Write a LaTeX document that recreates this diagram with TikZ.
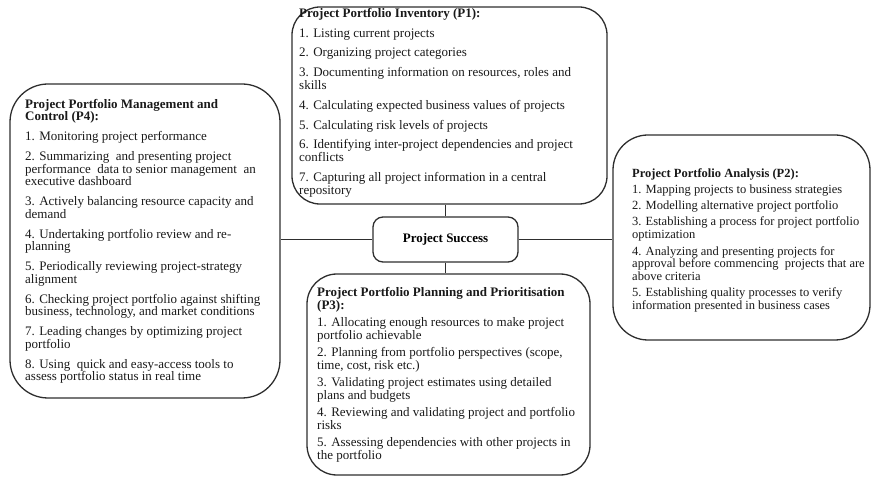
\documentclass[tikz,border=0pt]{standalone}
\usepackage{fontspec}
\setmainfont{Liberation Serif}
\usetikzlibrary{calc}

\tikzset{
  panel/.style={draw=black!82, line width=1.3pt, rounded corners=#1, inner sep=0pt},
  body/.style={anchor=north west, align=left, inner sep=0pt, text=black!90,
               font=\fontsize{13}{12.8}\selectfont},
  link/.style={draw=black!82, line width=1.1pt},
}

\begin{document}
\begin{tikzpicture}[x=1pt, y=-1pt]
  \useasboundingbox (0,0) rectangle (873,478);

  % outer panels
  \node[panel=28pt, minimum width=315pt, minimum height=197pt] (p1) at (449.5,105.5) {};
  \node[panel=38pt, minimum width=270pt, minimum height=314pt] (p4) at (145,241) {};
  \node[panel=35pt, minimum width=257pt, minimum height=205pt] (p2) at (741.5,237.5) {};
  \node[panel=30pt, minimum width=283pt, minimum height=201pt] (p3) at (448.5,374.5) {};

  % central node
  \node[panel=10pt, minimum width=145pt, minimum height=45pt,
        font=\fontsize{13}{14}\selectfont\bfseries] (succ) at (445.5,239.5) {Project Success};

  % connectors
  \draw[link] (succ.north) -- (succ.north |- p1.south);
  \draw[link] (succ.south) -- (succ.south |- p3.north);
  \draw[link] (succ.west) -- (succ.west -| p4.east);
  \draw[link] (succ.east) -- (succ.east -| p2.west);

  % P1 text
  \node[body] (t1) at (299,8) {%
    \textbf{Project Portfolio Inventory (P1):}\\[7pt]
    1. Listing current projects\\[7pt]
    2. Organizing project categories\\[7pt]
    3. Documenting information on resources, roles and\\
    skills\\[7pt]
    4. Calculating expected business values of projects\\[7pt]
    5. Calculating risk levels of projects\\[7pt]
    6. Identifying inter-project dependencies and project\\
    conflicts\\[7pt]
    7. Capturing all project information in a central\\
    repository};

  % P4 text
  \node[body, font=\fontsize{13}{12.5}\selectfont] (t4) at (25,99) {%
    \textbf{Project Portfolio Management and}\\
    \textbf{Control (P4):}\\[7.5pt]
    1. Monitoring project performance\\[7.5pt]
    2. Summarizing \ and presenting project\\
    performance \ data to senior management \ an\\
    executive dashboard\\[7.5pt]
    3. Actively balancing resource capacity and\\
    demand\\[7.5pt]
    4. Undertaking portfolio review and re-\\
    planning\\[7.5pt]
    5. Periodically reviewing project-strategy\\
    alignment\\[7.5pt]
    6. Checking project portfolio against shifting\\
    business, technology, and market conditions\\[7.5pt]
    7. Leading changes by optimizing project\\
    portfolio\\[7.5pt]
    8. Using \ quick and easy-access tools to\\
    assess portfolio status in real time};

  % P2 text
  \node[body, font=\fontsize{12.5}{12.8}\selectfont] (t2) at (632,168) {%
    \textbf{Project Portfolio Analysis (P2):}\\[3.5pt]
    1. Mapping projects to business strategies\\[3.5pt]
    2. Modelling alternative project portfolio\\[3.5pt]
    3. Establishing a process for project portfolio\\
    optimization\\[3.5pt]
    4. Analyzing and presenting projects for\\
    approval before commencing \ projects that are\\
    above criteria\\[3.5pt]
    5. Establishing quality processes to verify\\
    information presented in business cases};

  % P3 text
  \node[body] (t3) at (317,287) {%
    \textbf{Project Portfolio Planning and Prioritisation}\\
    \textbf{(P3):}\\[4.5pt]
    1. Allocating enough resources to make project\\
    portfolio achievable\\[4.5pt]
    2. Planning from portfolio perspectives (scope,\\
    time, cost, risk etc.)\\[4.5pt]
    3. Validating project estimates using detailed\\
    plans and budgets\\[4.5pt]
    4. Reviewing and validating project and portfolio\\
    risks\\[4.5pt]
    5. Assessing dependencies with other projects in\\
    the portfolio};
\end{tikzpicture}
\end{document}
